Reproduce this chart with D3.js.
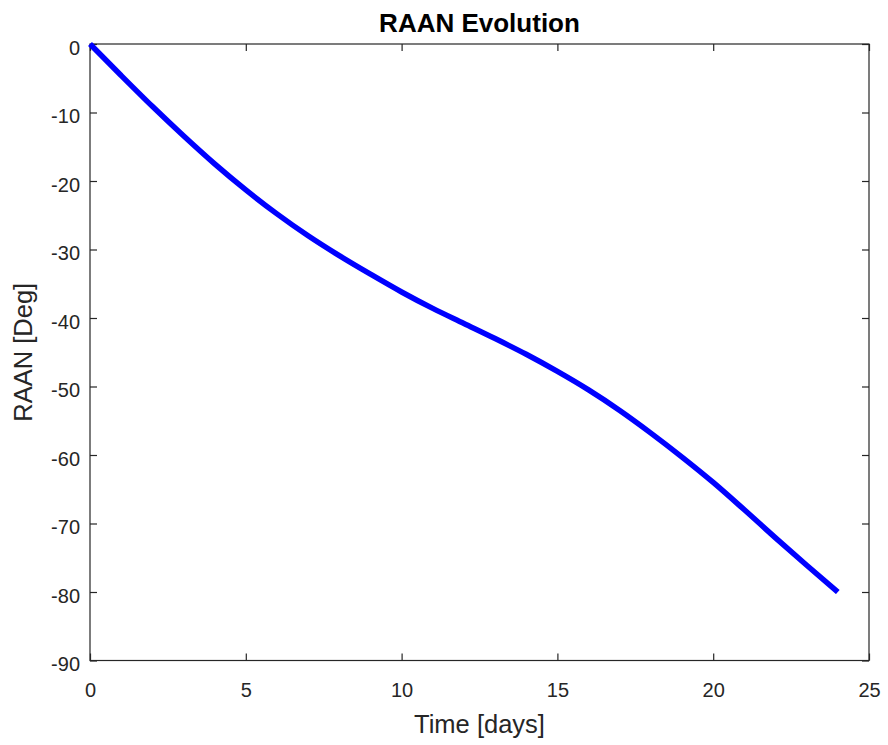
<!DOCTYPE html>
<html>
<head>
<meta charset="utf-8">
<script src="https://cdn.jsdelivr.net/npm/d3@7"></script>
<style>
  body { margin: 0; background: #fff; }
  text { font-family: "Liberation Sans", Arial, Helvetica, sans-serif; fill: #262626; }
</style>
</head>
<body>
<script>
// data
const days = [0, 1, 2, 3, 4, 5, 6, 7, 8, 9, 10, 11, 12, 13, 14, 15, 16, 17, 18, 19, 20, 21, 22, 23, 24];
const raan = [0, -4.6, -9.1, -13.4, -17.5, -21.3, -24.8, -28.0, -30.9, -33.6, -36.2, -38.6, -40.8,
              -43.0, -45.3, -47.8, -50.5, -53.5, -56.8, -60.3, -64.0, -68.0, -72.1, -76.1, -80.0];
const xTicks = [0, 5, 10, 15, 20, 25];
const yTicks = [0, -10, -20, -30, -40, -50, -60, -70, -80, -90];

const W = 888, H = 745;
// plot box edges (note: "top" is taken by window.top, so prefix them)
const pLeft = 90, pRight = 869, pTop = 44, pBottom = 660.5;

const svg = d3.select("body").append("svg")
    .attr("width", W)
    .attr("height", H);

const x = d3.scaleLinear().domain([0, 25]).range([pLeft, pRight]);
const y = d3.scaleLinear().domain([-90, 0]).range([pBottom, pTop]);

// box around the plot
svg.append("rect")
    .attr("x", pLeft)
    .attr("y", pTop)
    .attr("width", pRight - pLeft)
    .attr("height", pBottom - pTop)
    .style("fill", "none")
    .style("stroke", "#262626")
    .style("stroke-width", 1.2);

// axes, ticks pointing inwards, plain hyphen for the minus sign like matlab
const tickLen = 7;
const fmt = d => String(d);
function styleAxis(g) {
  g.select(".domain").remove();
  g.selectAll(".tick line").style("stroke", "#262626").style("stroke-width", 1.2);
  g.selectAll(".tick text").style("font-size", "20px").style("fill", "#262626")
    .style("font-family", "'Liberation Sans', Arial, sans-serif");
}

svg.append("g")
    .attr("transform", `translate(0,${pBottom})`)
    .call(d3.axisBottom(x).tickValues(xTicks).tickSize(-tickLen).tickPadding(22).tickFormat(fmt))
    .call(styleAxis);

svg.append("g")
    .attr("transform", `translate(0,${pTop})`)
    .call(d3.axisTop(x).tickValues(xTicks).tickSize(-tickLen).tickFormat(""))
    .call(styleAxis);

svg.append("g")
    .attr("transform", `translate(${pLeft},0)`)
    .call(d3.axisLeft(y).tickValues(yTicks).tickSize(-tickLen).tickPadding(10).tickFormat(fmt))
    .call(styleAxis)
    .call(g => g.selectAll(".tick text").attr("dy", "0.5em"));

svg.append("g")
    .attr("transform", `translate(${pRight},0)`)
    .call(d3.axisRight(y).tickValues(yTicks).tickSize(-tickLen).tickFormat(""))
    .call(styleAxis);

// the curve
const line = d3.line()
    .x((d, i) => x(days[i]))
    .y(d => y(d))
    .curve(d3.curveMonotoneX);

svg.append("path")
    .datum(raan)
    .attr("d", line)
    .style("fill", "none")
    .style("stroke", "#0000ff")
    .style("stroke-width", 5.5)
    .style("stroke-linecap", "butt");

// titles
svg.append("text")
    .text("RAAN Evolution")
    .attr("x", (pLeft + pRight) / 2)
    .attr("y", 31.5)
    .attr("text-anchor", "middle")
    .style("font-size", "26px")
    .style("font-weight", "bold")
    .style("fill", "#000");

svg.append("text")
    .text("Time [days]")
    .attr("x", (pLeft + pRight) / 2)
    .attr("y", 733)
    .attr("text-anchor", "middle")
    .style("font-size", "25.5px");

svg.append("text")
    .text("RAAN [Deg]")
    .attr("transform", `translate(31.5,${(pTop + pBottom) / 2}) rotate(-90)`)
    .attr("text-anchor", "middle")
    .style("font-size", "25.5px");
</script>
</body>
</html>
